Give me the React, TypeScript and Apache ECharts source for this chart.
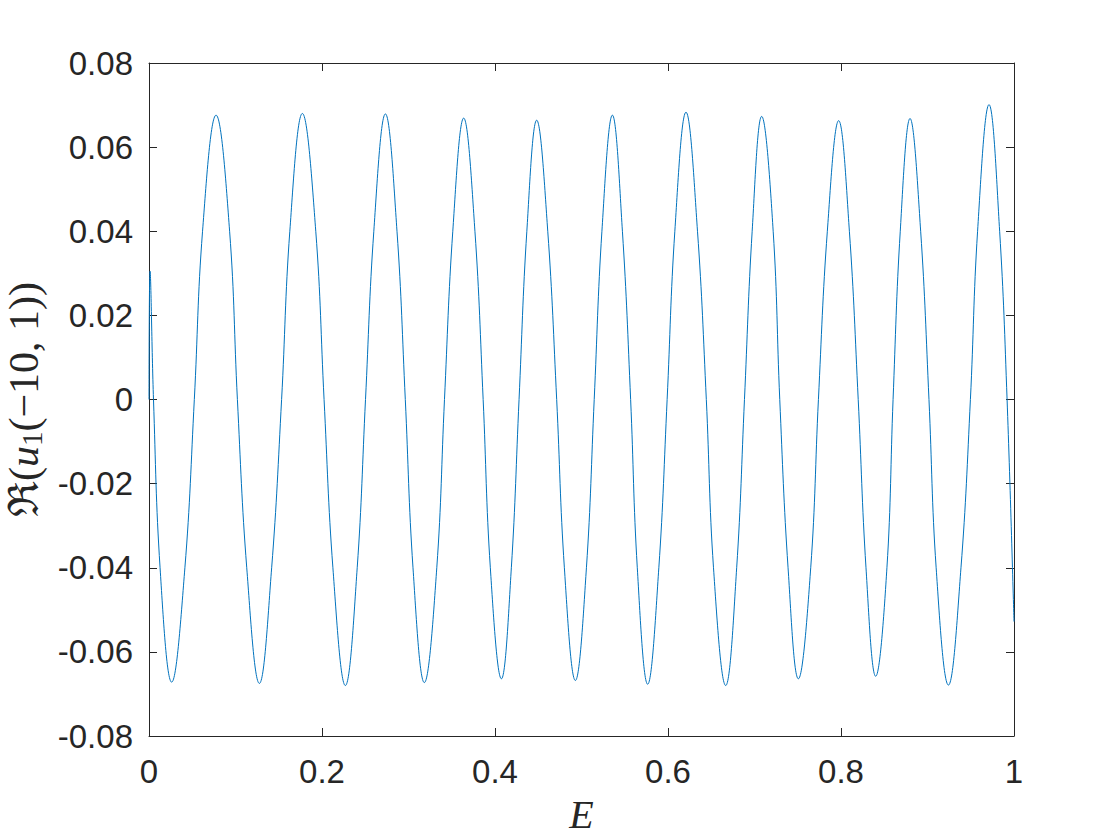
import React, { useEffect, useRef } from "react";
import * as echarts from "echarts";

// E values (x) and Re(u1(-10,1)) values (y)
const energy = [
  0, 0.0012, 0.0052, 0.0128, 0.0262, 0.0415, 0.0524, 0.0619, 0.0775, 0.0932,
  0.1022, 0.113, 0.1276, 0.1418, 0.1533, 0.1628, 0.1773, 0.1928, 0.2024, 0.2126,
  0.227, 0.2407, 0.2503, 0.2599, 0.2733, 0.2867, 0.2963, 0.3052, 0.3183, 0.3327,
  0.3416, 0.3512, 0.3638, 0.3768, 0.3863, 0.3946, 0.4074, 0.4189, 0.4278, 0.4368,
  0.4482, 0.461, 0.4713, 0.4802, 0.4929, 0.5057, 0.5147, 0.5236, 0.5357, 0.5473,
  0.5568, 0.5645, 0.5765, 0.5894, 0.599, 0.6079, 0.6208, 0.6341, 0.6443, 0.6526,
  0.6667, 0.6794, 0.6884, 0.6973, 0.7083, 0.7216, 0.7292, 0.7388, 0.7507, 0.765,
  0.7739, 0.7842, 0.7973, 0.8097, 0.8199, 0.8289, 0.8401, 0.8531, 0.8602, 0.8685,
  0.8798, 0.8921, 0.9017, 0.91, 0.9242, 0.9387, 0.9496, 0.9579, 0.9711, 0.9834,
  0.992, 1.0,
];
const realU = [
  0, 0.0305, 0, -0.04, -0.0672, -0.04, 0, 0.04, 0.0676, 0.04,
  0, -0.04, -0.0675, -0.04, 0, 0.04, 0.068, 0.04, 0, -0.04,
  -0.068, -0.04, 0, 0.04, 0.0679, 0.04, 0, -0.04, -0.0673, -0.04,
  0, 0.04, 0.0669, 0.04, 0, -0.04, -0.0664, -0.04, 0, 0.04,
  0.0664, 0.04, 0, -0.04, -0.0668, -0.04, 0, 0.04, 0.0676, 0.04,
  0, -0.04, -0.0677, -0.04, 0, 0.04, 0.0683, 0.04, 0, -0.04,
  -0.068, -0.04, 0, 0.04, 0.0673, 0.04, 0, -0.04, -0.0664, -0.04,
  0, 0.04, 0.0663, 0.04, 0, -0.04, -0.0658, -0.04, 0, 0.04,
  0.0668, 0.04, 0, -0.04, -0.0679, -0.04, 0, 0.04, 0.0701, 0.04,
  0, -0.0528,
];

const xMin = 0;
const xMax = 1;
const xStep = 0.2;
const yMin = -0.08;
const yMax = 0.08;
const yStep = 0.02;

const AXIS_COLOR = "#262626";
const LINE_COLOR = "#0072BD";
const LABEL_FONT = "'Liberation Sans', Arial, Helvetica, sans-serif";
const MATH_FONT = "'Liberation Serif', 'DejaVu Serif', serif";

export default function App() {
  const ref = useRef<HTMLDivElement>(null);

  useEffect(() => {
    if (!ref.current) return;
    const chart = echarts.init(ref.current, undefined, { renderer: "svg" });

    const axisLine = { show: true, onZero: false, lineStyle: { color: AXIS_COLOR, width: 1 } };
    const axisTick = { show: true, inside: true, length: 8, lineStyle: { color: AXIS_COLOR, width: 1 } };

    const data = energy.map((e, i) => [e, realU[i]]);

    chart.setOption({
      animation: false,
      backgroundColor: "#ffffff",
      grid: {
        left: 149,
        right: 106,
        top: 63,
        bottom: 104,
        containLabel: false,
        outerBoundsMode: "none",
      },
      xAxis: [
        {
          type: "value",
          min: xMin,
          max: xMax,
          interval: xStep,
          position: "bottom",
          axisLine,
          axisTick,
          splitLine: { show: false },
          axisLabel: {
            color: AXIS_COLOR,
            fontFamily: LABEL_FONT,
            fontSize: 33,
            margin: 19,
            formatter: (v: number) => String(Math.round(v * 10) / 10),
          },
          name: "E",
          nameLocation: "middle",
          nameGap: 58,
          nameTextStyle: {
            fontFamily: MATH_FONT,
            fontStyle: "italic",
            fontSize: 40,
            color: AXIS_COLOR,
          },
        },
        {
          type: "value",
          min: xMin,
          max: xMax,
          interval: xStep,
          position: "top",
          axisLine,
          axisTick,
          splitLine: { show: false },
          axisLabel: { show: false },
        },
      ],
      yAxis: [
        {
          type: "value",
          min: yMin,
          max: yMax,
          interval: yStep,
          position: "left",
          axisLine,
          axisTick,
          splitLine: { show: false },
          axisLabel: {
            color: AXIS_COLOR,
            fontFamily: LABEL_FONT,
            fontSize: 33,
            margin: 16,
            formatter: (v: number) => (Math.abs(v) < 1e-9 ? "0" : v.toFixed(2)),
          },
          name: "{r|ℜ(}{i|u}{s|1}{r|(−10, 1))}",
          nameLocation: "middle",
          nameRotate: 90,
          nameGap: 101,
          nameTextStyle: {
            color: AXIS_COLOR,
            rich: {
              r: { fontFamily: MATH_FONT, fontSize: 42, color: AXIS_COLOR },
              i: { fontFamily: MATH_FONT, fontSize: 42, fontStyle: "italic", color: AXIS_COLOR },
              s: { fontFamily: MATH_FONT, fontSize: 29, color: AXIS_COLOR, padding: [16, 0, 0, 0] },
            },
          },
        },
        {
          type: "value",
          min: yMin,
          max: yMax,
          interval: yStep,
          position: "right",
          axisLine,
          axisTick,
          splitLine: { show: false },
          axisLabel: { show: false },
        },
      ],
      series: [
        {
          type: "line",
          xAxisIndex: 0,
          yAxisIndex: 0,
          data,
          smooth: 0.4,
          symbol: "none",
          lineStyle: { color: LINE_COLOR, width: 1 },
        },
      ],
    });

    return () => chart.dispose();
  }, []);

  return (
    <div
      ref={ref}
      style={{ position: "fixed", left: 0, top: 0, width: 1120, height: 840, background: "#fff" }}
    />
  );
}
